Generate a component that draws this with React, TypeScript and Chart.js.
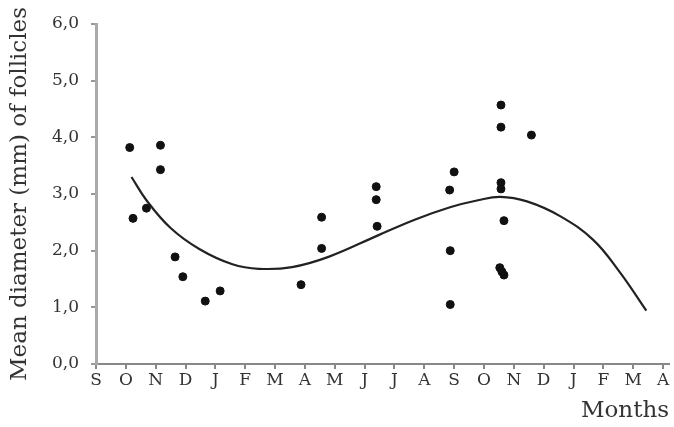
import React, { useEffect, useRef } from "react";
import { Chart, registerables } from "chart.js";

Chart.register(...registerables);

const monthLabels = ["S", "O", "N", "D", "J", "F", "M", "A", "M", "J", "J", "A", "S", "O", "N", "D", "J", "F", "M", "A"];

const yTicks = [0, 1, 2, 3, 4, 5, 6];

// observed follicle diameters: position along month axis, value (mm)
const obsX = [1.13, 1.24, 1.69, 2.16, 2.16, 2.65, 2.91, 3.66, 4.16, 6.87, 7.56, 7.56, 9.39, 9.39, 9.42, 11.85, 12.0, 11.87, 11.87, 13.57, 13.57, 14.59, 13.57, 13.57, 13.67, 13.53, 13.6, 13.67];
const obsY = [3.82, 2.57, 2.75, 3.86, 3.43, 1.89, 1.54, 1.11, 1.29, 1.40, 2.59, 2.04, 3.13, 2.90, 2.43, 3.07, 3.39, 2.00, 1.05, 4.57, 4.18, 4.04, 3.20, 3.09, 2.53, 1.70, 1.63, 1.57];

// trend curve
const trendX = [1.19, 1.69, 2.5, 3.46, 4.57, 5.46, 6.57, 7.79, 9.45, 10.7, 11.89, 12.8, 13.55, 14.44, 15.55, 16.66, 17.55, 18.44];
const trendY = [3.30, 2.89, 2.40, 2.03, 1.76, 1.68, 1.71, 1.89, 2.27, 2.55, 2.77, 2.89, 2.95, 2.87, 2.61, 2.19, 1.62, 0.94];

const FONT = "'DejaVu Serif', serif";

export default function App() {
  const ref = useRef<HTMLCanvasElement | null>(null);

  useEffect(() => {
    document.body.style.margin = "0";
    const canvas = ref.current;
    if (!canvas) return;
    const chart = new Chart(canvas, {
      type: "scatter",
      data: {
        datasets: [
          {
            label: "Observed",
            data: obsX.map((x, i) => ({ x, y: obsY[i] })),
            backgroundColor: "#111",
            borderColor: "#111",
            pointRadius: 4,
            showLine: false,
          },
          {
            label: "Trend",
            data: trendX.map((x, i) => ({ x, y: trendY[i] })),
            borderColor: "#222",
            borderWidth: 2.2,
            pointRadius: 0,
            showLine: true,
            tension: 0.4,
            fill: false,
          } as any,
        ],
      },
      options: {
        animation: false,
        responsive: true,
        maintainAspectRatio: false,
        layout: { padding: { top: 24, right: -4, left: 0, bottom: 0 } },
        plugins: { legend: { display: false }, tooltip: { enabled: false } },
        scales: {
          x: {
            type: "linear",
            min: 0,
            max: 19.2,
            afterBuildTicks: (s: any) => {
              s.ticks = monthLabels.map((_, i) => ({ value: i }));
            },
            afterFit: (s: any) => {
              s.height = 63;
              s.paddingRight = 0;
            },
            ticks: {
              autoSkip: false,
              maxRotation: 0,
              padding: 1,
              color: "#333",
              font: { family: FONT, size: 17 },
              callback: (v: any) => monthLabels[Math.round(Number(v))] ?? "",
            },
            grid: { drawOnChartArea: false, drawTicks: true, tickLength: 5, color: "#888", lineWidth: 2 },
            border: { color: "#888", width: 2 },
            title: {
              display: true,
              text: "Months",
              align: "end",
              color: "#333",
              font: { family: FONT, size: 23 },
              padding: { top: 0, bottom: 2 },
            },
          },
          y: {
            min: 0,
            max: 6,
            afterBuildTicks: (s: any) => {
              s.ticks = yTicks.map((v) => ({ value: v }));
            },
            afterFit: (s: any) => {
              s.width = 96;
            },
            ticks: {
              padding: 12,
              color: "#333",
              font: { family: FONT, size: 17 },
              callback: (v: any) => Number(v).toFixed(1).replace(".", ","),
            },
            grid: { drawOnChartArea: false, drawTicks: true, tickLength: 5, color: "#999", lineWidth: 2 },
            border: { color: "#aaa", width: 3 },
            title: {
              display: true,
              text: "Mean diameter (mm) of follicles",
              color: "#333",
              font: { family: FONT, size: 23 },
              padding: { top: 6, bottom: 0 },
            },
          },
        },
      },
    });
    return () => chart.destroy();
  }, []);

  return (
    <div style={{ width: 674, height: 427, background: "#fff" }}>
      <canvas ref={ref} />
    </div>
  );
}
